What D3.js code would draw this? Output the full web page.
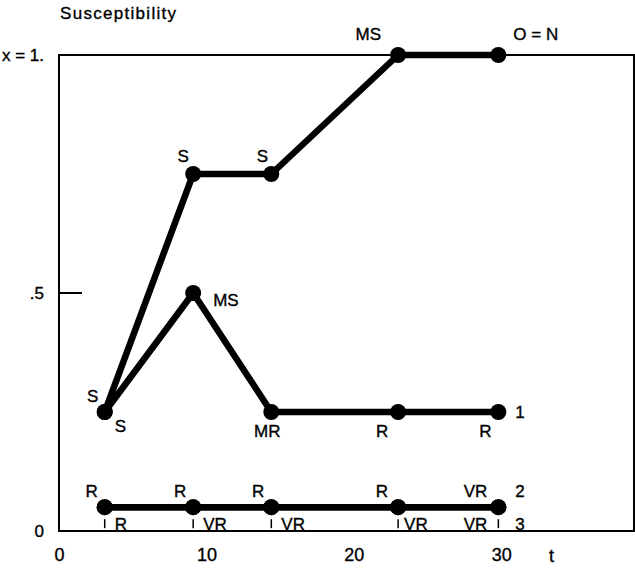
<!DOCTYPE html>
<html lang="en">
<head>
    <meta charset="UTF-8">
    <title>Susceptibility</title>
    <script src="https://d3js.org/d3.v7.min.js"></script>
    <style>
        body { margin: 0; background: #fff; }
        svg text { font-family: "Liberation Sans", Arial, sans-serif; fill: #000; stroke: #000; stroke-width: 0.35px; }
    </style>
</head>
<body>
    <svg id="chart" width="635" height="570"></svg>
    <script>
        // data
        const times = [3.1, 9.1, 14.4, 23, 29.8];
        const line0 = [0.25, 0.75, 0.75, 1.0, 1.0];
        const line1 = [0.25, 0.5, 0.25, 0.25, 0.25];
        const line2 = [0.05, 0.05, 0.05, 0.05, 0.05];
        const line3 = [0.05, 0.05, 0.05, 0.05, 0.05];
        const labels0 = ["S", "S", "S", "MS", "O = N"];
        const labels1 = ["S", "MS", "MR", "R", "R"];
        const labels2 = ["R", "R", "R", "R", "VR"];
        const labels3 = ["R", "VR", "VR", "VR", "VR"];
        const seriesNames = ["", "1", "2", "3"];
        const xTicks = [0, 10, 20, 30];
        const yTicks = [0, 0.5, 1];
        const yTickLabels = ["0", ".5", "x = 1."];

        function drawChart() {
            const svg = d3.select("#chart");
            svg.selectAll("*").remove();

            const x = d3.scaleLinear().domain([0, 39]).range([59, 634]);
            const y = d3.scaleLinear().domain([0, 1]).range([531, 55]);

            // frame
            svg.append("rect")
                .attr("x", x(0)).attr("y", y(1))
                .attr("width", x(39) - x(0)).attr("height", y(0) - y(1))
                .attr("fill", "none").attr("stroke", "#000").attr("stroke-width", 2);

            // axes (labels only, frame drawn above)
            const xAxis = svg.append("g")
                .attr("transform", `translate(0,${y(0)})`)
                .call(d3.axisBottom(x).tickValues(xTicks).tickSize(0).tickPadding(17));
            xAxis.select(".domain").remove();
            xAxis.selectAll("text").attr("font-size", 18).attr("font-family", null);

            const yAxis = svg.append("g")
                .attr("transform", `translate(${x(0)},0)`)
                .call(d3.axisLeft(y).tickValues(yTicks).tickSize(0).tickPadding(15)
                    .tickFormat((d, i) => yTickLabels[i]));
            yAxis.select(".domain").remove();
            yAxis.selectAll("text").attr("font-size", 17).attr("font-family", null);

            // inner tick at .5
            svg.append("line")
                .attr("x1", x(0)).attr("x2", x(0) + 23)
                .attr("y1", y(0.5)).attr("y2", y(0.5))
                .attr("stroke", "#000").attr("stroke-width", 2);

            svg.append("text").attr("x", 60).attr("y", 19)
                .attr("font-size", 17).attr("letter-spacing", 1.3)
                .text("Susceptibility");
            svg.append("text").attr("x", 549).attr("y", 562)
                .attr("font-size", 18).text("t");

            const line = d3.line().x(d => x(d.t)).y(d => y(d.v));
            const series = [line0, line1, line2, line3].map(vals =>
                vals.map((v, i) => ({ t: times[i], v: v })));

            series.forEach(s => {
                svg.append("path").datum(s)
                    .attr("fill", "none").attr("stroke", "#000")
                    .attr("stroke-width", 6.5).attr("stroke-linejoin", "round")
                    .attr("d", line);
            });
            series.forEach(s => {
                svg.selectAll(null).data(s).enter().append("circle")
                    .attr("cx", d => x(d.t)).attr("cy", d => y(d.v))
                    .attr("r", 8).attr("fill", "#000");
            });

            // point label layout: [dx, dy, anchor]
            const layout = [
                [[-12, -10, "middle"], [-10, -12, "middle"], [-9, -12, "middle"], [-17, -15, "end"], [15, -15, "start"]],
                [[10, 20, "start"], [20, 13, "start"], [-4, 25, "middle"], [-16, 25, "middle"], [-13, 25, "middle"]],
                [[-7, -10, "end"], [-7, -10, "end"], [-7, -10, "end"], [-10, -10, "end"], [-11, -10, "end"]],
                [[10, 23, "start"], [10, 23, "start"], [10, 23, "start"], [6, 23, "start"], [-11, 23, "end"]]
            ];
            const labelSets = [labels0, labels1, labels2, labels3];

            series.forEach((s, k) => {
                svg.selectAll(null).data(s).enter().append("text")
                    .attr("x", (d, i) => x(d.t) + layout[k][i][0])
                    .attr("y", (d, i) => y(d.v) + layout[k][i][1])
                    .attr("text-anchor", (d, i) => layout[k][i][2])
                    .attr("font-size", 17)
                    .text((d, i) => labelSets[k][i]);
                if (seriesNames[k]) {
                    const last = s[s.length - 1];
                    svg.append("text")
                        .attr("x", x(last.t) + 17)
                        .attr("y", y(last.v) + (k === 3 ? 23 : k === 2 ? -10 : 6))
                        .attr("font-size", 17)
                        .text(seriesNames[k]);
                }
            });

            // small marks under the bottom line
            svg.selectAll(null).data(series[3]).enter().append("line")
                .attr("x1", d => x(d.t)).attr("x2", d => x(d.t))
                .attr("y1", d => y(d.v) + 12).attr("y2", d => y(d.v) + 21)
                .attr("stroke", "#000").attr("stroke-width", 1.5);
        }

        drawChart();
    </script>
</body>
</html>
